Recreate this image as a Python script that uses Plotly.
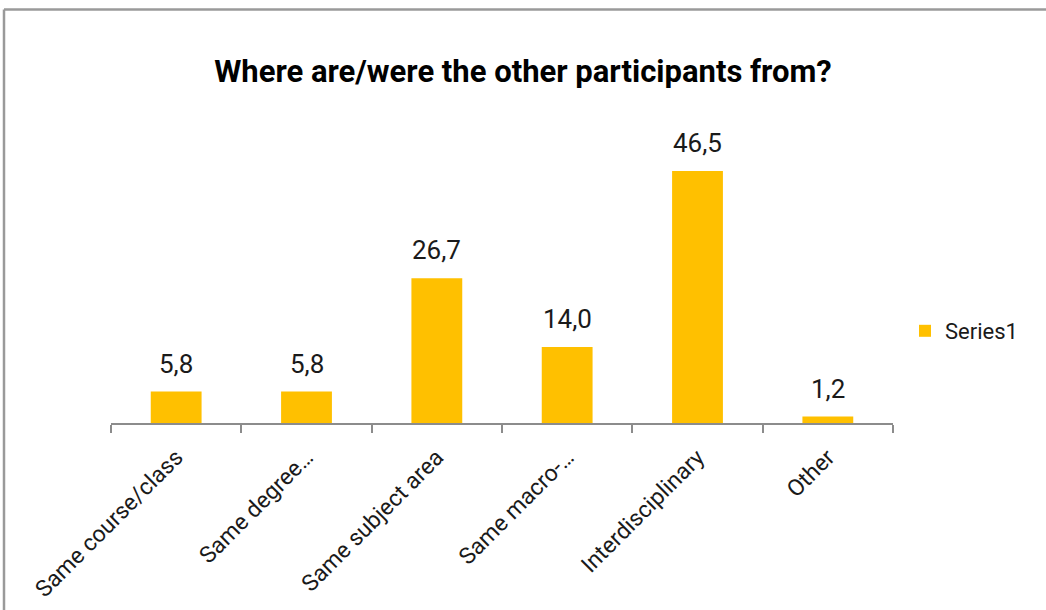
import plotly.graph_objects as go

# Survey responses (percent of participants)
categories = [
    "Same course/class",
    "Same degree…",
    "Same subject area",
    "Same macro-…",
    "Interdisciplinary",
    "Other",
]
values = [5.8, 5.8, 26.7, 14.0, 46.5, 1.2]
series_name = "Series1"
title_text = "Where are/were the other participants from?"

W, H = 1046, 610
ML, MR, MT, MB = 111, 153, 152, 187
Y_MAX = 50

BAR_COLOR = "#FFC000"
AXIS_COLOR = "#8c8c8c"
FONT = "Roboto, 'Open Sans', Arial, sans-serif"

plot_w = W - ML - MR
plot_h = H - MT - MB


def px_to_paper_x(px):
    return (px - ML) / plot_w


def px_to_paper_y(py):
    return (H - MB - py) / plot_h


fig = go.Figure()
fig.add_trace(
    go.Bar(
        x=categories,
        y=values,
        name=series_name,
        marker=dict(color=BAR_COLOR, line=dict(width=0)),
        showlegend=True,
    )
)

# value labels above each bar, with comma decimal separator
for cat, val in zip(categories, values):
    fig.add_annotation(
        x=cat,
        y=val,
        xref="x",
        yref="y",
        text=f"{val:.1f}".replace(".", ","),
        showarrow=False,
        yanchor="bottom",
        yshift=11,
        font=dict(family=FONT, size=26, color="#1a1a1a"),
    )

# outer chart frame (top and left edges visible)
frame = dict(color="#9a9a9a", width=2.5)
fig.add_shape(type="line", xref="paper", yref="paper",
              x0=px_to_paper_x(4), x1=px_to_paper_x(W + 5),
              y0=px_to_paper_y(9.5), y1=px_to_paper_y(9.5), line=frame)
fig.add_shape(type="line", xref="paper", yref="paper",
              x0=px_to_paper_x(4), x1=px_to_paper_x(4),
              y0=px_to_paper_y(9.5), y1=px_to_paper_y(H + 5), line=frame)

fig.update_layout(
    width=W,
    height=H,
    margin=dict(l=ML, r=MR, t=MT, b=MB, autoexpand=False),
    paper_bgcolor="white",
    plot_bgcolor="white",
    bargap=0.61,
    font=dict(family=FONT, color="#1a1a1a"),
    title=dict(
        text=f"<b>{title_text}</b>",
        x=0.5,
        xref="container",
        xanchor="center",
        y=1 - 71 / H,
        yanchor="middle",
        font=dict(family=FONT, size=31, color="#000000"),
    ),
    legend=dict(
        x=px_to_paper_x(905),
        y=px_to_paper_y(331),
        xanchor="left",
        yanchor="middle",
        font=dict(family=FONT, size=22, color="#1a1a1a"),
        bgcolor="rgba(0,0,0,0)",
        itemwidth=30,
    ),
    xaxis=dict(
        type="category",
        showline=True,
        linecolor=AXIS_COLOR,
        linewidth=1.5,
        ticks="outside",
        tickson="boundaries",
        ticklen=8,
        tickcolor=AXIS_COLOR,
        tickwidth=1.5,
        tickangle=-45,
        ticklabelstandoff=10,
        tickfont=dict(family=FONT, size=23, color="#1a1a1a"),
        showgrid=False,
        zeroline=False,
        fixedrange=True,
    ),
    yaxis=dict(
        range=[0, Y_MAX],
        visible=False,
        showgrid=False,
        zeroline=False,
        fixedrange=True,
    ),
)

fig.write_html("out.html")
